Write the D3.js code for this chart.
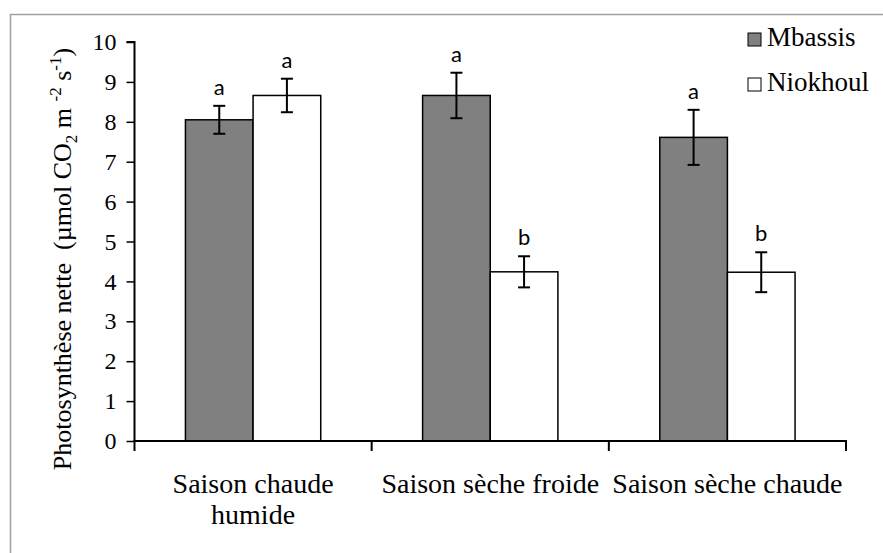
<!DOCTYPE html>
<html>
<head>
<meta charset="utf-8">
<script src="https://cdn.jsdelivr.net/npm/d3@7/dist/d3.min.js"></script>
<style>
  html, body { margin: 0; padding: 0; background: #fff; }
  svg { display: block; }
  .serif { font-family: "Liberation Serif", Tinos, "Times New Roman", Times, serif; }
  .sans { font-family: Lato, "Open Sans", sans-serif; }
</style>
</head>
<body>
<svg id="chart" width="883" height="553"></svg>
<script>
// ---- data ----
const categories = ["Saison chaude humide", "Saison sèche froide", "Saison sèche chaude"];
const categoryLines = [["Saison chaude", "humide"], ["Saison sèche froide"], ["Saison sèche chaude"]];
const series = ["Mbassis", "Niokhoul"];
const mbassisValues = [8.05, 8.66, 7.61];
const mbassisErrors = [0.35, 0.57, 0.69];
const niokhoulValues = [8.66, 4.24, 4.23];
const niokhoulErrors = [0.42, 0.39, 0.50];
const mbassisLetters = ["a", "a", "a"];
const niokhoulLetters = ["a", "b", "b"];
const yTicks = [0, 1, 2, 3, 4, 5, 6, 7, 8, 9, 10];

const seriesValues = { Mbassis: mbassisValues, Niokhoul: niokhoulValues };
const seriesErrors = { Mbassis: mbassisErrors, Niokhoul: niokhoulErrors };
const seriesLetters = { Mbassis: mbassisLetters, Niokhoul: niokhoulLetters };
const seriesFill = { Mbassis: "#808080", Niokhoul: "#ffffff" };

const svg = d3.select("#chart");

// outer frame (partially visible)
svg.append("rect")
  .attr("x", 10.5).attr("y", 14.5)
  .attr("width", 1000).attr("height", 1000)
  .attr("fill", "none").attr("stroke", "#a0a0a0").attr("stroke-width", 1.5);

const plotLeft = 134.5, plotRight = 846, plotTop = 42, plotBottom = 441;

const y = d3.scaleLinear().domain([0, 10]).range([plotBottom, plotTop]);
const x0 = d3.scaleBand().domain(categories).range([plotLeft, plotRight]).padding(0);
const x1 = d3.scaleBand().domain(series).range([0, x0.bandwidth()]).paddingInner(0).paddingOuter(0.753);

const rows = [];
categories.forEach((c, i) => {
  series.forEach(s => {
    rows.push({ cat: c, s, v: seriesValues[s][i], e: seriesErrors[s][i], l: seriesLetters[s][i] });
  });
});

// bars
svg.append("g").selectAll("rect").data(rows).join("rect")
  .attr("x", d => x0(d.cat) + x1(d.s))
  .attr("y", d => y(d.v))
  .attr("width", x1.bandwidth())
  .attr("height", d => y(0) - y(d.v))
  .attr("fill", d => seriesFill[d.s])
  .attr("stroke", "#000").attr("stroke-width", 1.5);

// error bars
const eb = svg.append("g").attr("stroke", "#000").attr("stroke-width", 2).attr("fill", "none");
rows.forEach(d => {
  const cx = x0(d.cat) + x1(d.s) + x1.bandwidth() / 2;
  const yt = y(d.v + d.e), yb = y(d.v - d.e);
  eb.append("line").attr("x1", cx).attr("x2", cx).attr("y1", yt).attr("y2", yb);
  eb.append("line").attr("x1", cx - 6).attr("x2", cx + 6).attr("y1", yt).attr("y2", yt);
  eb.append("line").attr("x1", cx - 6).attr("x2", cx + 6).attr("y1", yb).attr("y2", yb);
});

// significance letters
svg.append("g").selectAll("text").data(rows).join("text")
  .attr("class", "sans")
  .attr("x", d => x0(d.cat) + x1(d.s) + x1.bandwidth() / 2)
  .attr("y", d => y(d.v + d.e) - 11)
  .attr("text-anchor", "middle")
  .attr("font-size", 22)
  .attr("fill", "#000")
  .text(d => d.l);

// y axis
const yAxis = d3.axisLeft(y).tickValues(yTicks).tickSize(8).tickPadding(10).tickFormat(d3.format("d"));
const gy = svg.append("g").attr("transform", `translate(${plotLeft},0)`).call(yAxis);
gy.attr("font-family", null);
gy.select(".domain").attr("stroke", "#000").attr("stroke-width", 2).attr("d", `M-8,${plotTop}H0V${plotBottom}`);
gy.selectAll(".tick line").attr("stroke", "#000").attr("stroke-width", 1.5);
gy.selectAll(".tick text")
  .attr("class", "serif")
  .attr("font-size", 24).attr("fill", "#000");

// x axis (ticks at category boundaries)
const boundaries = categories.map(c => x0(c)).concat([x0(categories[categories.length - 1]) + x0.bandwidth()]);
const gx = svg.append("g");
gx.append("line").attr("x1", plotLeft - 1).attr("x2", plotRight + 1).attr("y1", plotBottom).attr("y2", plotBottom)
  .attr("stroke", "#000").attr("stroke-width", 2);
gx.selectAll("line.tk").data(boundaries).join("line").attr("class", "tk")
  .attr("x1", d => d).attr("x2", d => d).attr("y1", plotBottom).attr("y2", plotBottom + 10)
  .attr("stroke", "#000").attr("stroke-width", 2);

// category labels
categories.forEach((c, i) => {
  const t = svg.append("text")
    .attr("class", "serif")
    .attr("x", x0(c) + x0.bandwidth() / 2)
    .attr("y", 493)
    .attr("text-anchor", "middle")
    .attr("font-size", 28).attr("fill", "#000");
  categoryLines[i].forEach((line, j) => {
    t.append("tspan").attr("x", x0(c) + x0.bandwidth() / 2).attr("dy", j === 0 ? 0 : 31).text(line);
  });
});

// y-axis title
const title = svg.append("text")
  .attr("class", "serif")
  .attr("transform", "translate(71,259) rotate(-90)")
  .attr("text-anchor", "middle")
  .attr("font-size", 26).attr("fill", "#000");
title.append("tspan").text("Photosynthèse nette\u00A0\u00A0(µmol CO");
title.append("tspan").attr("font-size", 17).attr("dy", 6).text("2");
title.append("tspan").attr("dy", -6).text(" m ");
title.append("tspan").attr("font-size", 17).attr("dy", -10).text("-2");
title.append("tspan").attr("dy", 10).text(" s");
title.append("tspan").attr("font-size", 17).attr("dy", -10).text("-1");
title.append("tspan").attr("dy", 10).text(")");

// legend
const legend = svg.append("g");
series.forEach((s, i) => {
  const ly = 46 + i * 45;
  legend.append("rect").attr("x", 748).attr("y", ly - 13).attr("width", 13).attr("height", 13)
    .attr("fill", seriesFill[s]).attr("stroke", "#000").attr("stroke-width", 1);
  legend.append("text").attr("class", "serif").attr("x", 767).attr("y", ly)
    .attr("font-size", 27).attr("fill", "#000").text(s);
});
</script>
</body>
</html>
